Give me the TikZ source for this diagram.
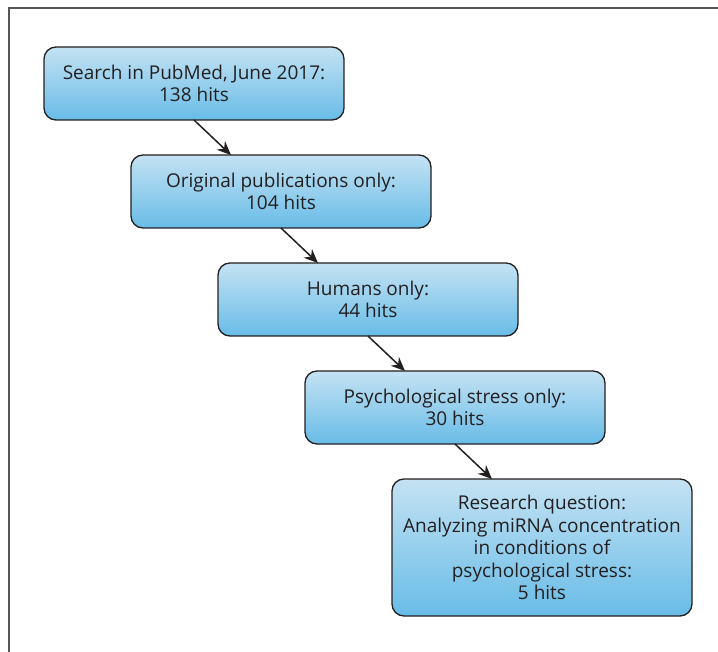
\documentclass[tikz,border=0pt]{standalone}
\usepackage{fontspec}
\setmainfont{Open Sans}
\usetikzlibrary{positioning}
\usetikzlibrary{arrows.meta}

\definecolor{boxtop}{RGB}{196,226,243}
\definecolor{boxbottom}{RGB}{104,188,231}
\definecolor{inkgray}{RGB}{35,31,32}
\definecolor{framegray}{RGB}{85,85,85}

\begin{document}
\begin{tikzpicture}
				[x=1pt,y=-1pt,
					every node/.style={draw=inkgray,line width=1.3pt,rounded corners=12pt,
						top color=boxtop,bottom color=boxbottom,text=inkgray,
						minimum width=300pt,minimum height=73pt,inner ysep=13pt,outer sep=0pt,align=center,
						font=\fontsize{19}{22.5}\selectfont},
					flow/.style={draw=inkgray,line width=1.5pt,-{Stealth[length=14pt,width=12pt]}},
				node distance=35pt]
				\useasboundingbox (0,0) rectangle (718,652);
				% frame
				\draw[framegray,line width=1.8pt] (718,8) -| (9,652);
				% search steps
				\node (pubmed) at (194,83.5) {Search in PubMed, June 2017:\\138 hits};
				\node (original) [below=of pubmed,xshift=87pt] {Original publications only:\\104 hits};
				\node (humans) [below=of original,xshift=87pt] {Humans only:\\44 hits};
				\node (stress) [below=of humans,xshift=87pt] {Psychological stress only:\\30 hits};
				\node (question) [below=of stress,xshift=87pt,minimum height=137pt] {Research question:\\Analyzing miRNA concentration\\in conditions of\\psychological stress:\\5 hits};
				% connectors
				\draw[flow] (pubmed.south) -- ([xshift=100pt]original.north west);
				\draw[flow] (original.south) -- ([xshift=100pt]humans.north west);
				\draw[flow] (humans.south) -- ([xshift=100pt]stress.north west);
				\draw[flow] (stress.south) -- ([xshift=100pt]question.north west);
			\end{tikzpicture}
\end{document}
